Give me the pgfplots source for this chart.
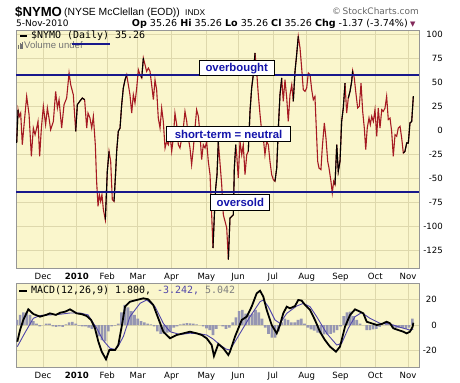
\documentclass[border=0pt]{standalone}
\usepackage{pgfplots}
\usepackage{pgfplotstable}
\pgfplotsset{compat=1.18}
\usepackage{fontspec}
\setmainfont{Liberation Sans}
\newfontfamily\mono{DejaVu Sans Mono}
\newfontfamily\dejavu{DejaVu Sans}
\definecolor{bgy}{RGB}{250,246,204}
\definecolor{gridc}{RGB}{222,216,172}
\definecolor{nyred}{RGB}{165,26,34}
\definecolor{lineblue}{RGB}{24,24,140}
\definecolor{txtblue}{RGB}{20,20,170}
\definecolor{sigc}{RGB}{80,70,170}
\definecolor{histc}{RGB}{150,150,178}
\definecolor{framec}{RGB}{150,150,150}
\definecolor{trim}{RGB}{130,40,90}

\pgfplotstableread{
day val
-24.2 -13.5
-22.9 21.2
-21.7 14.2
-20.5 17.7
-19.0 -15.3
-17.4 5.6
-15.0 35.1
-12.8 16.0
-10.7 -27.4
-8.9 2.1
-7.3 -4.9
-5.8 2.1
-4.6 9.0
-3.1 -27.4
-1.5 2.1
0.3 24.6
2.4 5.6
4.0 22.9
5.5 12.5
7.0 0.3
9.5 9.0
11.6 40.3
13.2 22.9
14.7 31.6
17.1 2.1
19.3 26.4
21.7 33.3
23.9 59.4
25.4 47.2
27.8 36.8
30.0 -1.4
31.5 26.4
33.7 29.9
36.1 33.3
38.2 31.6
40.1 2.1
41.3 17.7
43.1 12.5
44.7 2.1
46.2 14.2
48.0 -15.3
49.2 -53.5
50.5 -79.5
51.7 -67.4
52.9 -74.3
54.1 -67.4
55.4 -83.0
57.2 -93.4
59.0 -43.1
60.6 -22.2
62.1 -32.6
63.6 -72.6
65.2 -74.3
66.7 -43.1
67.6 -22.2
69.1 -1.4
70.7 2.1
72.2 26.4
73.7 43.8
75.3 52.4
76.8 57.6
78.3 47.2
79.8 36.8
81.4 17.7
82.9 36.8
84.4 28.1
86.0 43.8
87.5 62.8
89.0 57.6
90.6 54.2
92.1 75.0
93.6 68.1
95.1 61.1
96.7 64.6
98.2 61.1
99.7 47.2
101.3 31.6
102.8 52.4
104.3 42.0
105.8 12.5
107.4 2.1
108.9 22.9
110.4 9.0
112.0 -18.8
113.5 -11.8
115.0 -15.3
116.6 -4.9
118.1 -22.2
119.6 -8.3
121.1 17.7
122.7 5.6
124.2 -15.3
125.7 -18.8
127.3 -8.3
128.8 2.1
130.3 19.4
131.9 9.0
133.4 -8.3
134.9 -18.8
136.4 -36.1
138.0 -18.8
139.5 2.1
141.0 21.2
142.6 14.2
144.1 -4.9
145.6 -30.9
147.1 -15.3
148.7 -18.8
150.2 -11.8
151.7 -32.6
153.3 -46.5
154.8 -88.2
156.0 -122.9
157.3 -88.2
158.5 -60.4
159.7 -46.5
160.9 -12.0
164.0 -56.9
165.5 -88.2
168.6 -102.0
170.1 -135.0
171.6 -91.7
173.2 -90.0
174.7 -88.2
175.6 -39.6
176.9 -15.3
177.8 -25.7
179.2 -50.0
180.8 -11.8
182.4 -25.7
183.8 -15.3
185.4 -46.5
187.0 -25.7
188.4 -22.2
190.0 19.4
191.5 43.8
193.0 57.6
194.6 80.2
196.1 61.1
197.6 36.8
199.2 16.0
200.7 -1.4
202.2 -8.3
203.7 -25.7
205.3 -11.8
206.8 -15.3
208.3 -32.6
209.9 -46.5
211.4 -51.7
212.9 -53.5
214.5 -39.6
216.0 2.1
217.5 36.8
219.1 54.2
220.5 29.9
222.1 52.4
223.7 33.3
225.1 9.0
226.7 36.8
228.3 47.2
229.7 29.9
231.3 61.1
232.8 78.5
234.3 97.6
235.9 85.4
237.4 64.6
238.9 42.0
240.5 40.3
242.0 43.8
243.5 59.4
245.1 57.6
246.6 42.0
248.1 31.6
249.6 35.0
252.1 -32.6
253.3 -39.6
255.1 -41.3
256.3 -18.8
258.2 7.3
259.7 -8.3
261.3 -32.6
262.5 -39.6
264.3 -53.5
265.5 -65.6
266.8 -53.5
268.0 -56.9
269.6 -15.3
271.0 -43.1
272.6 -32.6
274.1 9.0
275.6 22.9
277.2 48.9
278.7 17.7
280.2 33.3
281.8 40.3
283.3 50.7
284.2 61.8
285.7 54.2
287.0 40.3
288.8 22.9
290.3 24.6
291.9 48.9
293.4 19.4
294.9 2.1
296.2 -20.5
297.6 2.1
299.2 12.5
300.4 5.6
301.7 14.2
303.2 9.0
304.7 21.2
306.3 -6.6
307.7 22.9
309.3 2.1
310.9 21.2
312.3 19.4
313.9 22.9
315.4 35.1
316.9 10.8
318.5 12.5
320.0 -1.4
321.5 -27.4
323.1 -4.9
324.6 -6.6
326.1 2.1
327.7 3.8
329.2 -8.3
330.7 -23.9
332.2 -22.2
333.8 -13.5
335.3 -13.5
336.8 7.3
338.4 9.0
339.9 35.26
}\nymo

\pgfplotstableread{
day macd
-23.6 -13.2
-21.1 -4.0
-18.1 4.0
-13.5 12.4
-8.9 8.7
-2.8 6.6
2.8 8.0
6.4 9.2
11.9 8.0
15.6 9.7
20.2 10.5
24.8 12.4
30.9 9.2
35.8 8.5
40.1 7.1
44.1 4.0
47.7 -2.6
50.8 -13.2
53.9 -21.1
57.8 -27.1
60.9 -19.8
66.1 -19.8
69.1 -15.8
72.2 -1.3
75.3 14.5
79.8 18.4
86.0 19.8
92.1 21.1
96.6 20.3
101.2 15.8
105.8 5.3
110.4 -5.3
116.6 -10.5
122.7 -7.9
128.8 -6.6
134.9 -5.3
141.1 -6.6
145.7 -7.9
150.2 -10.5
154.8 -15.8
156.9 -24.5
160.9 -15.0
165.5 -18.4
170.1 -23.7
171.6 -21.1
176.2 -9.2
182.4 4.0
187.0 6.6
191.5 14.5
196.1 25.0
199.2 27.1
202.2 22.4
205.3 11.9
209.9 0.0
214.5 -6.6
217.5 0.0
220.5 9.2
223.7 14.5
226.7 13.2
231.3 15.0
234.3 19.8
237.4 19.3
240.5 15.8
245.1 11.9
249.6 4.0
254.2 -5.3
258.8 -11.9
263.4 -17.1
268.9 -21.1
272.6 -17.1
277.2 -1.3
281.8 7.9
286.4 12.4
291.0 10.5
294.0 9.2
297.1 2.6
301.7 1.3
306.3 0.0
310.9 0.8
315.4 2.6
318.5 1.3
321.5 -2.6
326.1 -4.0
330.7 -5.3
333.8 -6.6
336.8 -5.3
339.3 -1.3
339.9 1.8
}\macd

\pgfplotstableread{
day sig
-23.6 -17.1
-16.5 -6.0
-8.9 5.3
-2.8 7.5
6.4 8.0
15.6 8.5
24.8 9.5
34.0 9.5
41.3 8.0
49.3 -2.6
55.1 -12.0
61.5 -18.4
66.1 -19.3
68.8 -17.0
73.7 -9.2
79.8 6.6
89.0 17.1
95.2 19.8
102.8 14.5
110.4 1.3
116.6 -5.3
125.7 -7.5
134.9 -6.5
144.1 -7.0
150.2 -7.9
156.0 -11.0
162.5 -15.8
168.0 -19.0
171.6 -19.8
180.8 -6.6
190.0 6.6
199.2 18.4
202.2 19.8
206.8 14.5
212.9 4.0
217.5 1.3
223.7 9.2
232.8 15.0
238.9 17.1
245.1 14.5
251.2 6.6
260.4 -6.6
269.6 -15.8
274.1 -14.5
280.2 -2.6
286.4 6.6
292.4 9.8
300.1 5.3
309.3 1.3
318.5 0.8
327.7 -1.8
336.8 -4.0
339.9 -3.242
}\sig

\pgfplotstableread{
day hist
-24 4
-21 8
-18 10
-15 10
-12 8
-9 3
-6 1
-3 -1
0 0
3 1
6 1
9 -1
12 -1.5
15 -1
18 -1.5
21 0.5
24 2
27 2.5
30 1
33 -0.5
36 -1
39 -1
42 -2
45 -3
48 -2
51 -9
54 -12
57 -13
60 -5
63 -1
66 -0.5
69 1
72 10
75 16
78 14
81 11
84 8
87 5
90 3
93 2
96 1
99 0.5
102 -1
105 -5
108 -7
111 -7
114 -6
117 -5
120 -2
123 -1
126 0.5
129 1
132 1.5
135 1.2
138 1
141 0.5
144 0
147 -1
150 -2.6
153 -4
156 -8
159 -3
162 0
165 -1
168 -3
171 -2
174 2
177 6
180 11
183 12
186 9
189 8
192 9
195 12
198 10
201 5
204 -2
207 -7
210 -10
213 -10
216 -5
219 2
222 5
225 4
228 2
231 2
234 4
237 5
240 1
243 -2
246 -3.5
249 -4.5
252 -6
255 -7
258 -7.5
261 -7.5
264 -7
267 -6
270 -4
273 -1
276 7
279 10
282 10.5
285 7
288 4
291 1
294 0
297 -4
300 -4
303 -3.5
306 -3
309 -1.5
312 0
315 1.5
318 0.5
321 -2
324 -2.2
327 -2.2
330 -2.3
333 -3
336 -2
339 5.042
}\hist

\pgfplotsset{
  panel/.style={
    scale only axis, width=403bp,
    xmin=-24.8, xmax=345.1,
    axis background/.style={fill=bgy},
    axis line style={framec, line width=0.8bp},
    xtick={0,31,59,87,118,150,179,211,242,273,305,335},
    xticklabels={Dec,\textbf{2010},Feb,Mar,Apr,May,Jun,Jul,Aug,Sep,Oct,Nov},
    yticklabel pos=right,
    grid=major, grid style={gridc, line width=0.8bp},
    major tick length=0pt,
    /pgf/number format/assume math mode=true,
    every tick label/.append style={font=\dejavu\fontsize{8.6}{10}\selectfont, text=black},
    xticklabel style={inner sep=0pt, yshift=-4.6bp},
  },
  blk/.style={black, line width=1.1bp, restrict x to domain=#1},
}

\begin{document}
\begin{tikzpicture}
\useasboundingbox (0bp,0bp) rectangle (460bp,-383bp);

% ---------- main NYMO panel ----------
\begin{axis}[panel,
  at={(16bp,-30bp)}, anchor=north west, height=238bp,
  ymin=-143.75, ymax=104.2,
  ytick={-125,-100,...,100},
  yticklabel style={anchor=east, inner sep=0pt, xshift=24bp},
]
\addplot[nyred, line width=1.1bp] table[x=day,y=val]{\nymo};
\addplot[blk=-24.3:-22.8] table[x=day,y=val]{\nymo};
\addplot[blk=29.9:38.3] table[x=day,y=val]{\nymo};
\addplot[blk=57.1:60.7] table[x=day,y=val]{\nymo};
\addplot[blk=65.1:76.9] table[x=day,y=val]{\nymo};
\addplot[blk=90.5:92.2] table[x=day,y=val]{\nymo};
\addplot[blk=155.9:161.0] table[x=day,y=val]{\nymo};
\addplot[blk=170.0:177.0] table[x=day,y=val]{\nymo};
\addplot[blk=188.3:194.7] table[x=day,y=val]{\nymo};
\addplot[blk=212.8:219.2] table[x=day,y=val]{\nymo};
\addplot[blk=229.6:234.4] table[x=day,y=val]{\nymo};
\addplot[blk=267.9:277.3] table[x=day,y=val]{\nymo};
\addplot[blk=280.1:284.3] table[x=day,y=val]{\nymo};
\addplot[blk=330.6:340] table[x=day,y=val]{\nymo};
\addplot[lineblue, line width=2.5bp] coordinates {(-24.8,57.5) (345.1,57.5)};
\addplot[lineblue, line width=2.5bp] coordinates {(-24.8,-64.5) (345.1,-64.5)};
\tikzset{annot/.style={draw=black, fill=white, line width=0.9bp, text=txtblue,
  font=\bfseries\fontsize{11.4}{12}\selectfont, inner sep=0pt, minimum height=15bp}}
\node[annot, minimum width=75bp] at (axis cs:177.8,64.4) {overbought};
\node[annot, minimum width=124bp] at (axis cs:170.3,-4.4) {short-term = neutral};
\node[annot, minimum width=59bp, minimum height=16bp] at (axis cs:181.1,-75.7) {oversold};
\end{axis}

% ---------- MACD panel ----------
\begin{axis}[panel,
  at={(16bp,-283bp)}, anchor=north west, height=84bp,
  ymin=-33.2, ymax=33.2,
  ytick={-20,0,20},
  yticklabel style={anchor=east, inner sep=0pt, xshift=18bp},
]
\addplot[ybar, bar width=2.4, fill=histc, draw=none] table[x=day,y=hist]{\hist};
\addplot[sigc, line width=0.9bp] table[x=day,y=sig]{\sig};
\addplot[black, line width=1.8bp] table[x=day,y=macd]{\macd};
\end{axis}

% ---------- header ----------
\node[anchor=base west, inner sep=0pt] at (15bp,-16bp) {\fontsize{13.2}{14}\selectfont\bfseries \$NYMO};
\node[anchor=base west, inner sep=0pt] at (64bp,-15.5bp) {\fontsize{10.4}{12}\selectfont (NYSE McClellan (EOD))};
\node[anchor=base west, inner sep=0pt] at (185bp,-15bp) {\fontsize{8.4}{9}\selectfont INDX};
\node[anchor=base east, inner sep=0pt, text=black!60] at (419bp,-14.5bp) {\dejavu\fontsize{9}{10}\selectfont \textcopyright\,StockCharts.com};
\node[anchor=base west, inner sep=0pt] at (16bp,-26.7bp) {\dejavu\fontsize{9}{10}\selectfont 5-Nov-2010};
\node[anchor=base east, inner sep=0pt] at (408bp,-26.7bp) {\dejavu\fontsize{9.6}{10}\selectfont
  \textbf{Op} 35.26 \textbf{Hi} 35.26 \textbf{Lo} 35.26 \textbf{Cl} 35.26 \textbf{Chg} -1.37 (-3.74\%)};
\node[anchor=base west, inner sep=0pt, text=trim] at (410bp,-26bp) {\dejavu\fontsize{7}{8}\selectfont ▼};

% ---------- in-panel legends ----------
\draw[black, line width=2bp] (20bp,-36bp) -- (27bp,-36bp);
\node[anchor=west, inner sep=0pt] at (31bp,-36bp) {\mono\fontsize{10}{11}\selectfont \$NYMO (Daily) 35.26};
\node[anchor=base west, inner sep=0pt, text=black!55] at (18bp,-48.5bp) {\fontsize{6}{7}\selectfont\rule{0.9bp}{3.5bp}\hspace{0.5bp}\rule{0.9bp}{5.5bp}\hspace{0.5bp}\rule{0.9bp}{4.5bp}\hspace{0.5bp}\rule{0.9bp}{6.5bp}};
\node[anchor=base west, inner sep=0pt, text=black!55] at (24bp,-48.5bp) {\fontsize{9.6}{10}\selectfont Volume undef};
\draw[lineblue, line width=2.5bp] (72bp,-44bp) -- (110bp,-44bp);

\draw[black, line width=2bp] (19bp,-290.7bp) -- (27bp,-290.7bp);
\node[anchor=west, inner sep=0pt] at (31bp,-290.7bp) {\mono\fontsize{10}{11}\selectfont MACD(12,26,9) 1.800, \textcolor{sigc}{-3.242,} \textcolor{black!50}{5.042}};
\end{tikzpicture}
\end{document}
